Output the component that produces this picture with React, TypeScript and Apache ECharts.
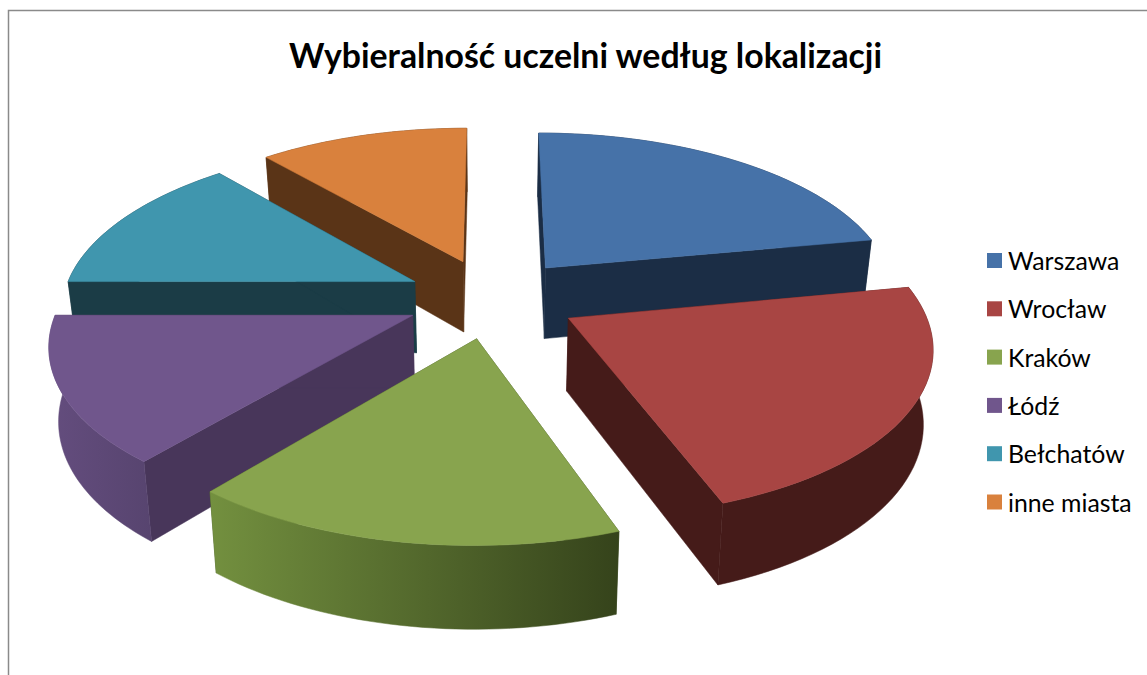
import React, { useEffect, useRef } from "react";
import * as echarts from "echarts";

const categories = ["Warszawa", "Wrocław", "Kraków", "Łódź", "Bełchatów", "inne miasta"];
const shares = [22, 22.5, 16.5, 14, 13.7, 11.3];
const topColors = ["#4672A8", "#A84543", "#88A44E", "#70568C", "#4096AE", "#D9813D"];
const wallColors = ["#1B2D45", "#451B19", "#3F4F22", "#48365A", "#1B3C46", "#5A3417"];
const outerLeft = ["#1B2D45", "#451B19", "#73903F", "#644D7E", "#1B3C46", "#5A3417"];
const outerRight = ["#1B2D45", "#451B19", "#35431B", "#57446F", "#1B3C46", "#5A3417"];
const paintOrder = [0, 5, 4, 3, 1, 2];

const cx = 492, cy = 298, Rx = 352, Ry = 163, perspX = 0.15, perspY = 0.147, explode = 0.245, depth = 72, shrink = 0.978;

const total = shares.reduce((a, b) => a + b, 0);
const startShare = (i: number) => shares.slice(0, i).reduce((a, b) => a + b, 0);
const rad = (s: number) => (s / total) * Math.PI * 2;

function project(X: number, Y: number, low: boolean): number[] {
  const sx = 1 / (1 - perspX * Y);
  const sy = 1 / (1 - perspY * Y);
  const x = cx + Rx * X * sx;
  const y = cy + Ry * Y * sy;
  return low ? [cx + (x - cx) * shrink, y + depth * Math.pow(sy, 0.75)] : [x, y];
}

function renderSlice(i: number) {
  return () => {
    const a0 = rad(startShare(i));
    const a1 = rad(startShare(i) + shares[i]);
    const mid = (a0 + a1) / 2;
    const ox = explode * Math.sin(mid);
    const oy = -explode * Math.cos(mid);
    const steps = 40;
    const arc = (low: boolean) => {
      const pts: number[][] = [];
      for (let k = 0; k <= steps; k++) {
        const t = a0 + ((a1 - a0) * k) / steps;
        pts.push(project(ox + Math.sin(t), oy - Math.cos(t), low));
      }
      return pts;
    };
    const apexT = project(ox, oy, false);
    const apexB = project(ox, oy, true);
    const topArc = arc(false);
    const lowArc = arc(true);
    const poly = (points: number[][], fill: any) => ({
      type: "polygon",
      shape: { points },
      style: { fill, stroke: fill, lineWidth: 0.5 },
    });
    return {
      type: "group",
      children: [
        poly([apexT, topArc[0], lowArc[0], apexB], wallColors[i]),
        poly([apexT, topArc[steps], lowArc[steps], apexB], wallColors[i]),
        poly(
          [...topArc, ...lowArc.slice().reverse()],
          new echarts.graphic.LinearGradient(0, 0, 1, 0, [
            { offset: 0, color: outerLeft[i] },
            { offset: 1, color: outerRight[i] },
          ])
        ),
        poly([apexT, ...topArc], topColors[i]),
      ],
    };
  };
}

export default function App() {
  const ref = useRef<HTMLDivElement>(null);
  useEffect(() => {
    const chart = echarts.init(ref.current!, undefined, { renderer: "svg" });
    chart.setOption({
      animation: false,
      backgroundColor: "#ffffff",
      color: topColors,
      title: {
        text: "Wybieralność uczelni według lokalizacji",
        left: 580.5,
        textAlign: "center",
        top: 33,
        textStyle: { fontFamily: "Lato", fontWeight: "bold", fontSize: 33.8, color: "#000000" },
      },
      legend: {
        orient: "vertical",
        left: 982,
        top: 243,
        icon: "rect",
        itemWidth: 15,
        itemHeight: 15,
        itemGap: 23.3,
        selectedMode: false,
        data: categories,
        textStyle: { fontFamily: "Lato", fontSize: 24.8, color: "#000000", padding: [0, 0, 0, 1] },
      },
      graphic: [
        {
          type: "polyline",
          silent: true,
          shape: { points: [[8.5, 675], [8.5, 10.5], [1147, 10.5]] },
          style: { stroke: "#8a8a8a", lineWidth: 1.5, fill: "none" },
        },
      ],
      series: paintOrder.map((i) => ({
        type: "custom",
        name: categories[i],
        coordinateSystem: "none",
        silent: true,
        itemStyle: { color: topColors[i] },
        data: [[shares[i]]],
        renderItem: renderSlice(i),
      })),
    });
    return () => chart.dispose();
  }, []);
  return <div ref={ref} style={{ position: "absolute", left: 0, top: 0, width: 1147, height: 675 }} />;
}
